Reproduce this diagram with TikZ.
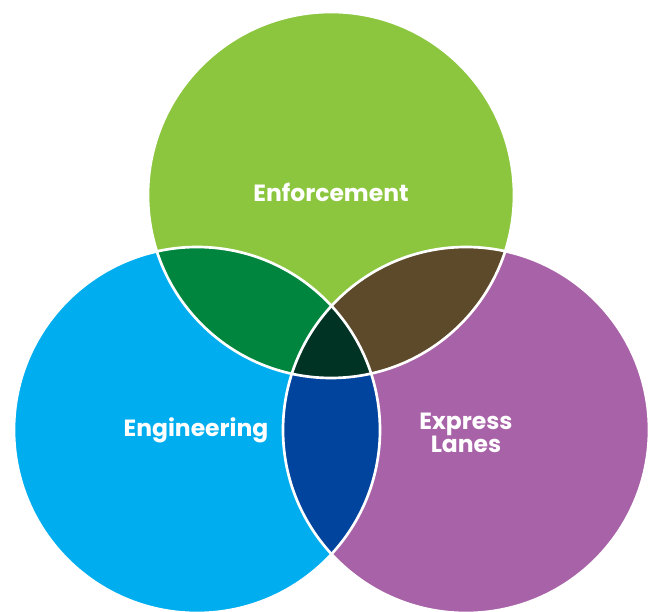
\documentclass[tikz,border=0pt]{standalone}
\usepackage{fontspec}
\setsansfont{Poppins}
\usetikzlibrary{calc}

\definecolor{enfgreen}{HTML}{8CC63F}
\definecolor{engblue}{HTML}{00AEEF}
\definecolor{exppurple}{HTML}{A862A7}
\definecolor{mixgreen}{HTML}{00853E}
\definecolor{mixbrown}{HTML}{5C4A2A}
\definecolor{mixblue}{HTML}{00449E}
\definecolor{mixdark}{HTML}{003324}

\begin{document}
\begin{tikzpicture}[x=0.75pt,y=0.75pt]
\tikzset{venn label/.style={ %
		text=white,
		font=\sffamily\bfseries\fontsize{17.6}{17.4}\selectfont,
		align=center %
	}
}
\useasboundingbox (0,0) rectangle (650,611);
\clip (0,0) rectangle (650,611);

\coordinate (enf) at (331,416);
\coordinate (eng) at (197,181);
\coordinate (exp) at (466,181);

% the three sets
\fill[enfgreen] (enf) circle (183);
\fill[engblue] (eng) circle (183);
\fill[exppurple] (exp) circle (183);

% overlaps
\begin{scope}
\clip (eng) circle (183);
\fill[mixblue] (exp) circle (183);
\end{scope}
\begin{scope}
\clip (enf) circle (183);
\fill[mixgreen] (eng) circle (183);
\fill[mixbrown] (exp) circle (183);
\clip (eng) circle (183);
\fill[mixdark] (exp) circle (183);
\end{scope}

% white borders
\draw[white,line width=2pt] (enf) circle (183);
\draw[white,line width=2pt] (eng) circle (183);
\draw[white,line width=2pt] (exp) circle (183);

\node[venn label] (enflabel) at (331,419) {Enforcement};
\node[venn label] (englabel) at (196,181) {Engineering};
\node[venn label] (explabel) at (466,178) {Express\\Lanes};

\end{tikzpicture}
\end{document}
